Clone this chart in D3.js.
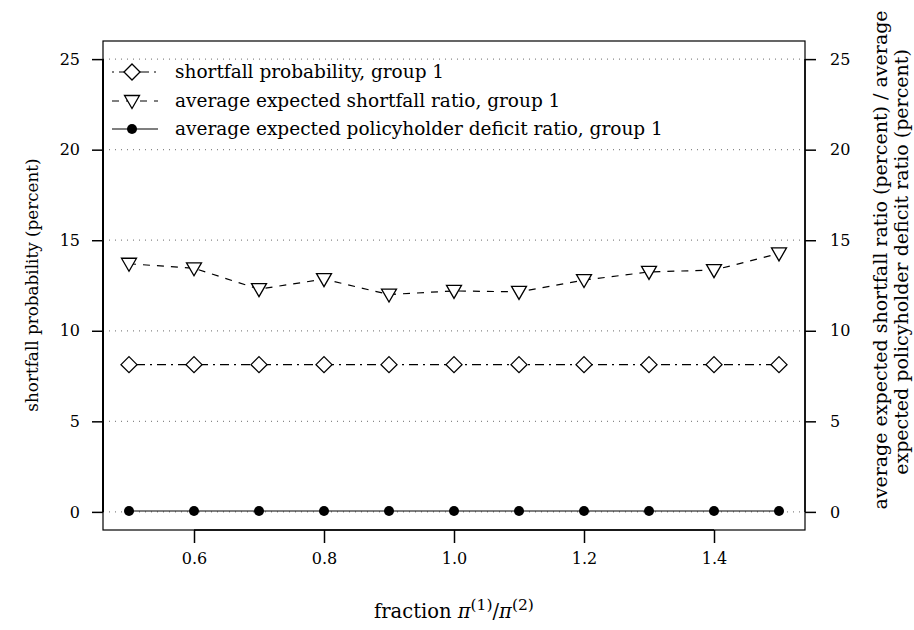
<!DOCTYPE html>
<html><head><meta charset="utf-8">
<script src="https://cdn.jsdelivr.net/npm/d3@7"></script>
<style>body{margin:0;background:#fff}svg{display:block}</style>
</head><body><svg id="c" width="914" height="630"></svg>
<script>
const fractions = [0.5,0.6,0.7,0.8,0.9,1.0,1.1,1.2,1.3,1.4,1.5];
const shortfallProb = [8.13,8.13,8.13,8.13,8.13,8.13,8.13,8.13,8.13,8.13,8.13];
const avgShortfallRatio = [13.7,13.45,12.3,12.85,12.0,12.2,12.15,12.8,13.25,13.35,14.27];
const avgDeficitRatio = [0.05,0.05,0.05,0.05,0.05,0.05,0.05,0.05,0.05,0.05,0.05];
const xTicks = [0.6,0.8,1.0,1.2,1.4];
const yTicks = [0,5,10,15,20,25];
const legendLabels = ["shortfall probability, group 1","average expected shortfall ratio, group 1","average expected policyholder deficit ratio, group 1"];

const FA = "DejaVu Serif";
const svg = d3.select("#c");
const L=103,R=805,T=41,B=530;
const x = d3.scaleLinear().domain([0.46,1.54]).range([L,R]);
const y = d3.scaleLinear().domain([-1,26]).range([B,T]);

svg.append("g").selectAll("line").data(yTicks).join("line")
 .attr("x1",L).attr("x2",R).attr("y1",d=>y(d)).attr("y2",d=>y(d))
 .attr("stroke","#888").attr("stroke-width",1.2).attr("stroke-dasharray","1 5");

svg.append("rect").attr("x",L).attr("y",T).attr("width",R-L).attr("height",B-T)
 .attr("fill","none").attr("stroke","#000").attr("stroke-width",1.2);

const fmt1 = d3.format(".1f");
const ax = svg.append("g").attr("transform",`translate(0,${B})`)
 .call(d3.axisBottom(x).tickValues(xTicks).tickFormat(fmt1).tickSize(13).tickPadding(10));
const ayl = svg.append("g").attr("transform",`translate(${L},0)`)
 .call(d3.axisLeft(y).tickValues(yTicks).tickSize(11).tickPadding(12));
const ayr = svg.append("g").attr("transform",`translate(${R},0)`)
 .call(d3.axisRight(y).tickValues(yTicks).tickSize(11).tickPadding(14));
[ax,ayl,ayr].forEach(g=>{
  g.attr("font-family",null).attr("font-size",null);
  g.select(".domain").remove();
  g.selectAll("line").attr("stroke","#000").attr("stroke-width",1.5);
  g.selectAll("text").attr("font-family",FA).attr("font-size",16).attr("fill","#000");
});
svg.append("line").attr("x1",x(0.6)).attr("x2",x(1.4)).attr("y1",B).attr("y2",B).attr("stroke","#000").attr("stroke-width",1.5);
svg.append("line").attr("x1",L).attr("x2",L).attr("y1",y(0)).attr("y2",y(25)).attr("stroke","#000").attr("stroke-width",2);
svg.append("line").attr("x1",R).attr("x2",R).attr("y1",y(0)).attr("y2",y(25)).attr("stroke","#000").attr("stroke-width",1.5);

const line = d3.line().x(d=>x(d[0])).y(d=>y(d[1]));
const series = [
 {vals:shortfallProb, dash:"2 5 9 5", sym:"diamond"},
 {vals:avgShortfallRatio, dash:"7 7", sym:"tri"},
 {vals:avgDeficitRatio, dash:null, sym:"dot"}
];
function drawSym(g,sym,cx,cy){
  if(sym==="diamond"){
    g.append("path").attr("d",`M${cx},${cy-8}L${cx+8},${cy}L${cx},${cy+8}L${cx-8},${cy}Z`)
     .attr("fill","#fff").attr("stroke","#000").attr("stroke-width",1.3);
  } else if(sym==="tri"){
    g.append("path").attr("d",`M${cx-7.5},${cy-5.5}L${cx+7.5},${cy-5.5}L${cx},${cy+7.5}Z`)
     .attr("fill","#fff").attr("stroke","#000").attr("stroke-width",1.3);
  } else {
    g.append("circle").attr("cx",cx).attr("cy",cy).attr("r",5).attr("fill","#000");
  }
}
series.forEach(s=>{
  const pts = fractions.map((f,i)=>[f,s.vals[i]]);
  svg.append("path").attr("d",line(pts)).attr("fill","none").attr("stroke","#000")
   .attr("stroke-width",1.2).attr("stroke-dasharray",s.dash);
  const g = svg.append("g");
  pts.forEach(p=>drawSym(g,s.sym,x(p[0]),y(p[1])));
});

const legY=[72,101,129];
series.forEach((s,i)=>{
  const g=svg.append("g");
  g.append("line").attr("x1",112).attr("x2",158).attr("y1",legY[i]).attr("y2",legY[i])
   .attr("stroke","#000").attr("stroke-width",1.2).attr("stroke-dasharray",s.dash);
  drawSym(g,s.sym,132,legY[i]);
  g.append("text").attr("x",175).attr("y",legY[i]+6).attr("font-family",FA).attr("font-size",18.5).text(legendLabels[i]);
});

svg.append("text").attr("transform","translate(38,285) rotate(-90)").attr("text-anchor","middle")
 .attr("font-family",FA).attr("font-size",16.8).text("shortfall probability (percent)");
svg.append("text").attr("transform","translate(887,260) rotate(-90)").attr("text-anchor","middle")
 .attr("font-family",FA).attr("font-size",19).text("average expected shortfall ratio (percent) / average");
svg.append("text").attr("transform","translate(908,262) rotate(-90)").attr("text-anchor","middle")
 .attr("font-family",FA).attr("font-size",19).text("expected policyholder deficit ratio (percent)");
const xl = svg.append("text").attr("x",454).attr("y",618).attr("text-anchor","middle").attr("font-family",FA).attr("font-size",19.5);
xl.append("tspan").text("fraction ");
xl.append("tspan").style("font-style","italic").text("π");
xl.append("tspan").attr("dy",-8).attr("font-size",15.5).text("(1)");
xl.append("tspan").attr("dy",8).text("/");
xl.append("tspan").style("font-style","italic").text("π");
xl.append("tspan").attr("dy",-8).attr("font-size",15.5).text("(2)");
</script></body></html>
